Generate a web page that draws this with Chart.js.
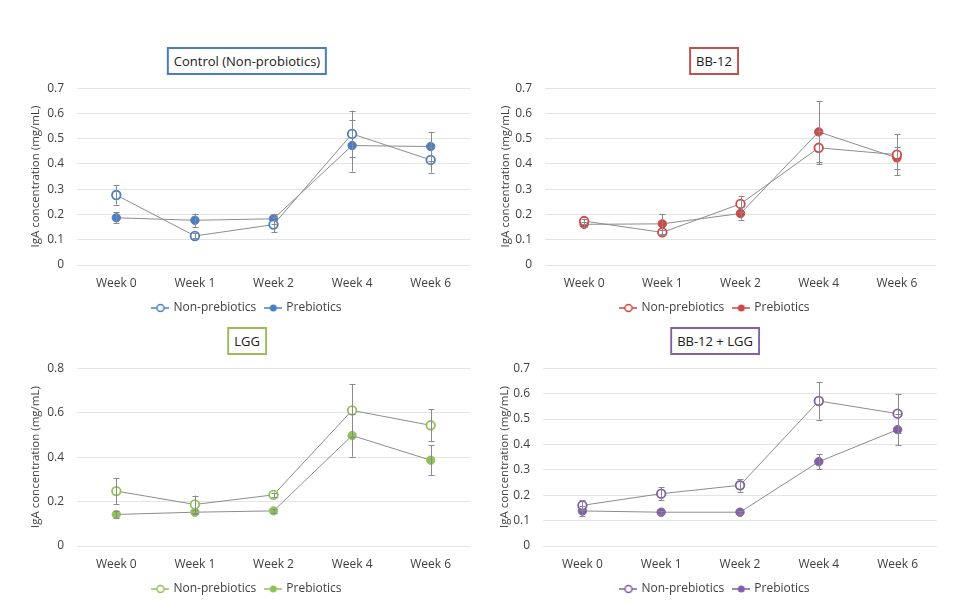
<!DOCTYPE html>
<html>
<head>
<meta charset="utf-8">
<script src="https://cdn.jsdelivr.net/npm/chart.js@4.4.1/dist/chart.umd.min.js"></script>
<style>
  html, body { margin: 0; padding: 0; background: #ffffff; }
  body { width: 958px; height: 609px; position: relative; overflow: hidden; font-family: "Open Sans", sans-serif; }
  canvas { position: absolute; }
  .tbox { position: absolute; background: #fff; border: 2px solid; box-sizing: border-box; height: 28px;
          font: 13px "Open Sans", sans-serif; color: #202020; line-height: 24px; text-align: center;
          padding: 0 5px; white-space: nowrap; transform: translateX(-50%); }
</style>
</head>
<body>
<canvas id="c1" width="479" height="256" style="left:0px;top:68px"></canvas>
<canvas id="c2" width="480" height="256" style="left:478px;top:68px"></canvas>
<canvas id="c3" width="479" height="257" style="left:0px;top:348px"></canvas>
<canvas id="c4" width="480" height="257" style="left:478px;top:348px"></canvas>
<div class="tbox" id="t1" style="left:247px;top:47px;border-color:#4a7ebb">Control (Non-probiotics)</div>
<div class="tbox" id="t2" style="left:714px;top:47px;border-color:#c0504d">BB-12</div>
<div class="tbox" id="t3" style="left:247px;top:327px;border-color:#9bbb59">LGG</div>
<div class="tbox" id="t4" style="left:715px;top:327px;border-color:#8064a2">BB-12 + LGG</div>
<script>
// ---------- data ----------
const categories = ['Week 0', 'Week 1', 'Week 2', 'Week 4', 'Week 6'];
const seriesNames = ['Non-prebiotics', 'Prebiotics'];

// Control (Non-probiotics)
const controlNonPre    = [0.277, 0.115, 0.160, 0.519, 0.416];
const controlNonPreErr = [0.038, 0.010, 0.030, 0.092, 0.050];
const controlPre       = [0.187, 0.177, 0.183, 0.473, 0.469];
const controlPreErr    = [0.022, 0.026, 0.020, 0.103, 0.058];

// BB-12
const bbNonPre    = [0.174, 0.129, 0.242, 0.464, 0.437];
const bbNonPreErr = [0.010, 0.010, 0.032, 0.066, 0.080];
const bbPre       = [0.161, 0.163, 0.204, 0.527, 0.424];
const bbPreErr    = [0.010, 0.040, 0.024, 0.121, 0.045];

// LGG
const lggNonPre    = [0.247, 0.187, 0.230, 0.610, 0.543];
const lggNonPreErr = [0.058, 0.040, 0.010, 0.118, 0.072];
const lggPre       = [0.142, 0.152, 0.158, 0.497, 0.386];
const lggPreErr    = [0.015, 0.008, 0.008, 0.095, 0.068];

// BB-12 + LGG
const comboNonPre    = [0.160, 0.206, 0.239, 0.571, 0.521];
const comboNonPreErr = [0.020, 0.025, 0.025, 0.073, 0.078];
const comboPre       = [0.138, 0.133, 0.133, 0.332, 0.458];
const comboPreErr    = [0.020, 0.006, 0.006, 0.030, 0.061];

const yTicks700 = { max: 0.7, step: 0.1 };
const yTicks800 = { max: 0.8, step: 0.2 };

// ---------- drawing ----------
const FONT = '"Open Sans", sans-serif';
const TEXT = '#404040';

const errorBarPlugin = {
  id: 'errorBars',
  afterDatasetsDraw(chart) {
    const ctx = chart.ctx;
    const ys = chart.scales.y;
    ctx.save();
    ctx.strokeStyle = '#8a8a8a';
    ctx.lineWidth = 1;
    chart.data.datasets.forEach((ds, i) => {
      const meta = chart.getDatasetMeta(i);
      meta.data.forEach((pt, j) => {
        const v = ds.data[j], e = ds.errors[j];
        const x = Math.round(pt.x) + 0.5;
        const yTop = ys.getPixelForValue(v + e);
        const yBot = ys.getPixelForValue(v - e);
        ctx.beginPath();
        ctx.moveTo(x, yTop); ctx.lineTo(x, yBot);
        ctx.moveTo(x - 3, Math.round(yTop) + 0.5); ctx.lineTo(x + 3, Math.round(yTop) + 0.5);
        ctx.moveTo(x - 3, Math.round(yBot) + 0.5); ctx.lineTo(x + 3, Math.round(yBot) + 0.5);
        ctx.stroke();
      });
    });
    ctx.restore();
  }
};

function legendIcon(color, filled) {
  const c = document.createElement('canvas');
  c.width = 18; c.height = 12;
  const g = c.getContext('2d');
  g.strokeStyle = color; g.lineWidth = 1.5;
  g.beginPath(); g.moveTo(0, 6); g.lineTo(18, 6); g.stroke();
  g.beginPath(); g.arc(9, 6, 3.5, 0, Math.PI * 2);
  g.fillStyle = filled ? color : '#ffffff';
  g.fill();
  if (!filled) { g.lineWidth = 1.5; g.stroke(); }
  return c;
}

function makeChart(id, color, nonPre, nonPreErr, pre, preErr, yt, lay) {
  const icons = [legendIcon(color, false), legendIcon(color, true)];
  return new Chart(document.getElementById(id), {
    type: 'line',
    data: {
      labels: categories,
      datasets: [
        { label: seriesNames[0], data: nonPre, errors: nonPreErr,
          borderColor: '#8c8c8c', borderWidth: 1, tension: 0,
          pointRadius: 4.3, pointHoverRadius: 4.3, pointBorderWidth: 1.8,
          pointBorderColor: color, pointBackgroundColor: '#ffffff' },
        { label: seriesNames[1], data: pre, errors: preErr,
          borderColor: '#8c8c8c', borderWidth: 1, tension: 0,
          pointRadius: 4.2, pointHoverRadius: 4.2, pointBorderWidth: 1,
          pointBorderColor: color, pointBackgroundColor: color }
      ]
    },
    options: {
      responsive: false,
      animation: false,
      devicePixelRatio: 1,
      layout: { padding: { left: lay.padLeft, right: lay.padRight, top: 0, bottom: 0 } },
      plugins: {
        tooltip: { enabled: false },
        legend: {
          position: 'bottom',
          labels: {
            usePointStyle: true,
            pointStyleWidth: 14,
            boxHeight: 12,
            padding: 10,
            color: TEXT,
            font: { family: FONT, size: 12 },
            generateLabels(chart) {
              return chart.data.datasets.map((ds, i) => ({
                text: ds.label, pointStyle: icons[i], fillStyle: color,
                strokeStyle: color, lineWidth: 0, hidden: false, datasetIndex: i,
                fontColor: TEXT
              }));
            }
          }
        }
      },
      scales: {
        x: {
          offset: true,
          grid: { display: false, drawTicks: false },
          border: { display: false },
          ticks: { color: TEXT, font: { family: FONT, size: 12 }, padding: 11, maxRotation: 0 },
          afterFit(s) { s.height = 27; }
        },
        y: {
          min: 0, max: yt.max,
          grid: { color: '#e4e4e4', drawTicks: false },
          border: { display: false },
          ticks: { stepSize: yt.step, color: TEXT, font: { family: FONT, size: 12 }, padding: 13,
                   callback: v => (v === 0 ? '0' : Number(v).toFixed(1)) },
          title: { display: true, text: 'IgA concentration (mg/mL)', color: TEXT,
                   font: { family: FONT, size: 11.5 }, padding: { top: 4, bottom: 4 } },
          afterFit(s) { s.width = lay.yWidth; }
        }
      }
    },
    plugins: [errorBarPlugin]
  });
}

makeChart('c1', '#4a7fc6', controlNonPre, controlNonPreErr, controlPre, controlPreErr, yTicks700,
          { padLeft: 25, yWidth: 52, padRight: 9 });
makeChart('c2', '#cf4747', bbNonPre, bbNonPreErr, bbPre, bbPreErr, yTicks700,
          { padLeft: 17, yWidth: 50, padRight: 22 });
makeChart('c3', '#92c15a', lggNonPre, lggNonPreErr, lggPre, lggPreErr, yTicks800,
          { padLeft: 25, yWidth: 52, padRight: 9 });
makeChart('c4', '#7f5fa8', comboNonPre, comboNonPreErr, comboPre, comboPreErr, yTicks700,
          { padLeft: 16, yWidth: 49, padRight: 21 });
</script>
</body>
</html>
